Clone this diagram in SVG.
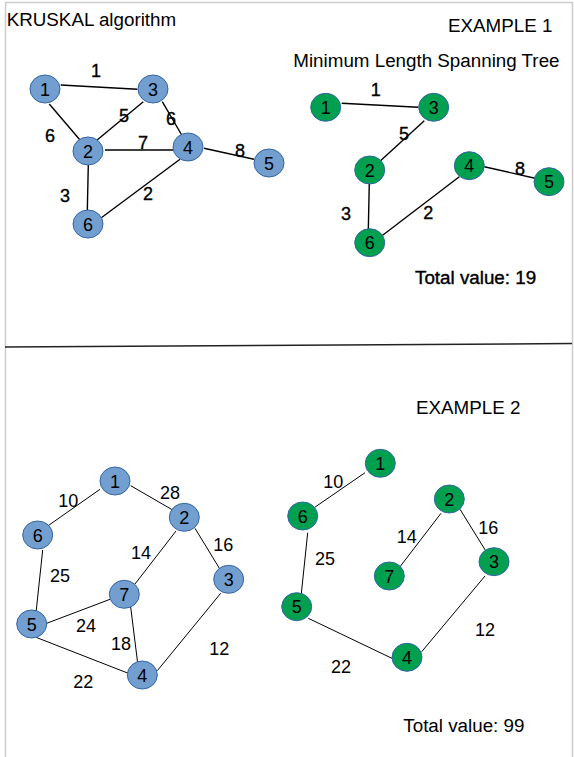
<svg xmlns="http://www.w3.org/2000/svg" width="574" height="757" viewBox="0 0 574 757">
<style>
text{font-family:"Liberation Sans",Arial,sans-serif;fill:#000}
.title{font-size:18.8px}
.nl{font-size:18px;text-anchor:middle}
.el{font-size:18px;text-anchor:middle}
.b ellipse{fill:#729fcf;stroke:#3465a4;stroke-width:1}
.g ellipse{fill:#00a050;stroke:#3465a4;stroke-width:1}
.e1 .el{stroke:#000;stroke-width:0.35}
#connectors line{stroke:#000;stroke-width:1}
#connectors .c1 line{stroke-width:1.4}
</style>
<rect x="0" y="0" width="574" height="757" fill="#fff"/>
<g id="frame" fill="none">
<path d="M5.5 757 V2.5 H572.5 V757" stroke="#cccccc" stroke-width="1.5"/>
<line x1="5" y1="347" x2="572" y2="343.5" stroke="#222" stroke-width="1.5"/>
</g>
<g id="texts">
<text class="title" x="6.7" y="26">KRUSKAL algorithm</text>
<text class="title" x="448" y="32">EXAMPLE 1</text>
<text class="title" x="293.3" y="67">Minimum Length Spanning Tree</text>
<text class="title" x="415" y="283.5" style="stroke:#000;stroke-width:0.4">Total value: 19</text>
<text class="title" x="416" y="414">EXAMPLE 2</text>
<text class="title" x="403.3" y="732">Total value: 99</text>
</g>
<g id="connectors">
<g class="c1">
<line x1="60.7" y1="85" x2="137.3" y2="89.3"/>
<line x1="49.3" y1="104" x2="80" y2="140"/>
<line x1="143.3" y1="101.7" x2="95" y2="141.7"/>
<line x1="162.3" y1="101.7" x2="181.7" y2="135"/>
<line x1="105" y1="150" x2="173.3" y2="150"/>
<line x1="204" y1="148.3" x2="254" y2="159.3"/>
<line x1="88.3" y1="165" x2="87.3" y2="210.7"/>
<line x1="180" y1="159.3" x2="99.3" y2="219.3"/>
<line x1="341.7" y1="103.3" x2="418.3" y2="107.3"/>
<line x1="424.3" y1="120.7" x2="378.3" y2="162.7"/>
<line x1="369.3" y1="182.7" x2="368.3" y2="230"/>
<line x1="459.3" y1="176.7" x2="380" y2="237.3"/>
<line x1="484.3" y1="166.7" x2="535" y2="178.3"/>
</g>
<line x1="100" y1="489.3" x2="46.7" y2="526.7"/>
<line x1="130.7" y1="485.7" x2="172.7" y2="510"/>
<line x1="176" y1="531" x2="135" y2="584"/>
<line x1="195" y1="528.3" x2="220" y2="569.3"/>
<line x1="42.7" y1="550" x2="36" y2="612.7"/>
<line x1="110" y1="599.3" x2="46.7" y2="623.3"/>
<line x1="130" y1="601.7" x2="137.7" y2="663.3"/>
<line x1="36" y1="637.3" x2="128.3" y2="673.3"/>
<line x1="220.7" y1="593.3" x2="157.3" y2="670.7"/>
<line x1="365" y1="472.7" x2="313.3" y2="508.3"/>
<line x1="441" y1="513.3" x2="400" y2="566.7"/>
<line x1="460" y1="509.3" x2="488.3" y2="555"/>
<line x1="307.7" y1="532.7" x2="301" y2="596.7"/>
<line x1="308.3" y1="618.3" x2="394" y2="659.3"/>
<line x1="485" y1="576" x2="421.7" y2="651.7"/>
</g>
<g id="edge-labels">
<g class="e1">
<text class="el" x="96" y="76.5">1</text>
<text class="el" x="50" y="141.5">6</text>
<text class="el" x="124" y="121.5">5</text>
<text class="el" x="171" y="124.5">6</text>
<text class="el" x="143" y="148.5">7</text>
<text class="el" x="240" y="156.5">8</text>
<text class="el" x="65" y="201.5">3</text>
<text class="el" x="148" y="199.5">2</text>
<text class="el" x="375.7" y="95.5">1</text>
<text class="el" x="404" y="139.5">5</text>
<text class="el" x="520" y="174.5">8</text>
<text class="el" x="346" y="219.5">3</text>
<text class="el" x="428.3" y="218.5">2</text>
</g>
<text class="el" x="68.3" y="507">10</text>
<text class="el" x="170" y="498.5">28</text>
<text class="el" x="141" y="558.5">14</text>
<text class="el" x="223.3" y="551">16</text>
<text class="el" x="60" y="582">25</text>
<text class="el" x="86" y="632">24</text>
<text class="el" x="121" y="649.5">18</text>
<text class="el" x="219.3" y="654.5">12</text>
<text class="el" x="83.3" y="688">22</text>
<text class="el" x="333.3" y="488">10</text>
<text class="el" x="406.7" y="543">14</text>
<text class="el" x="488.3" y="534">16</text>
<text class="el" x="325" y="564.5">25</text>
<text class="el" x="485" y="636">12</text>
<text class="el" x="341" y="673">22</text>
</g>
<g class="b">
<g id="a1-n1"><ellipse cx="45" cy="89" rx="15" ry="14"/><text class="nl" x="45" y="95.5">1</text></g>
<g id="a1-n3"><ellipse cx="153" cy="89" rx="15" ry="14"/><text class="nl" x="153" y="95.5">3</text></g>
<g id="a1-n2"><ellipse cx="88" cy="151" rx="15" ry="14"/><text class="nl" x="88" y="157.5">2</text></g>
<g id="a1-n4"><ellipse cx="188" cy="147" rx="15" ry="14"/><text class="nl" x="188" y="153.5">4</text></g>
<g id="a1-n5"><ellipse cx="269" cy="163" rx="15" ry="14"/><text class="nl" x="269" y="169.5">5</text></g>
<g id="a1-n6"><ellipse cx="88" cy="224" rx="15" ry="14"/><text class="nl" x="88" y="230.5">6</text></g>
</g>
<g class="g">
<g id="b1-n1"><ellipse cx="325.7" cy="107.3" rx="15" ry="14"/><text class="nl" x="325.7" y="113.8">1</text></g>
<g id="b1-n3"><ellipse cx="433.7" cy="107.3" rx="15" ry="14"/><text class="nl" x="433.7" y="113.8">3</text></g>
<g id="b1-n2"><ellipse cx="369.7" cy="170" rx="15" ry="14"/><text class="nl" x="369.7" y="176.5">2</text></g>
<g id="b1-n4"><ellipse cx="469.3" cy="165.7" rx="15" ry="14"/><text class="nl" x="469.3" y="172.2">4</text></g>
<g id="b1-n5"><ellipse cx="549" cy="181.7" rx="15" ry="14"/><text class="nl" x="549" y="188.2">5</text></g>
<g id="b1-n6"><ellipse cx="369.7" cy="242.7" rx="15" ry="14"/><text class="nl" x="369.7" y="249.2">6</text></g>
</g>
<g class="b">
<g id="a2-n1"><ellipse cx="115" cy="481" rx="15" ry="14"/><text class="nl" x="115" y="487.5">1</text></g>
<g id="a2-n2"><ellipse cx="184.3" cy="517.3" rx="15" ry="14"/><text class="nl" x="184.3" y="523.8">2</text></g>
<g id="a2-n6"><ellipse cx="37.7" cy="535" rx="15" ry="14"/><text class="nl" x="37.7" y="541.5">6</text></g>
<g id="a2-n3"><ellipse cx="228.7" cy="579.3" rx="15" ry="14"/><text class="nl" x="228.7" y="585.8">3</text></g>
<g id="a2-n7"><ellipse cx="124.3" cy="594.3" rx="15" ry="14"/><text class="nl" x="124.3" y="600.8">7</text></g>
<g id="a2-n5"><ellipse cx="31.7" cy="624" rx="15" ry="14"/><text class="nl" x="31.7" y="630.5">5</text></g>
<g id="a2-n4"><ellipse cx="142.3" cy="675" rx="15" ry="14"/><text class="nl" x="142.3" y="681.5">4</text></g>
</g>
<g class="g">
<g id="b2-n1"><ellipse cx="380.3" cy="463.3" rx="15" ry="14"/><text class="nl" x="380.3" y="469.8">1</text></g>
<g id="b2-n2"><ellipse cx="449.3" cy="499" rx="15" ry="14"/><text class="nl" x="449.3" y="505.5">2</text></g>
<g id="b2-n6"><ellipse cx="302.7" cy="516" rx="15" ry="14"/><text class="nl" x="302.7" y="522.5">6</text></g>
<g id="b2-n3"><ellipse cx="494" cy="561.7" rx="15" ry="14"/><text class="nl" x="494" y="568.2">3</text></g>
<g id="b2-n7"><ellipse cx="389.3" cy="576" rx="15" ry="14"/><text class="nl" x="389.3" y="582.5">7</text></g>
<g id="b2-n5"><ellipse cx="296.7" cy="606.7" rx="15" ry="14"/><text class="nl" x="296.7" y="613.2">5</text></g>
<g id="b2-n4"><ellipse cx="407" cy="657.3" rx="15" ry="14"/><text class="nl" x="407" y="663.8">4</text></g>
</g>
</svg>
